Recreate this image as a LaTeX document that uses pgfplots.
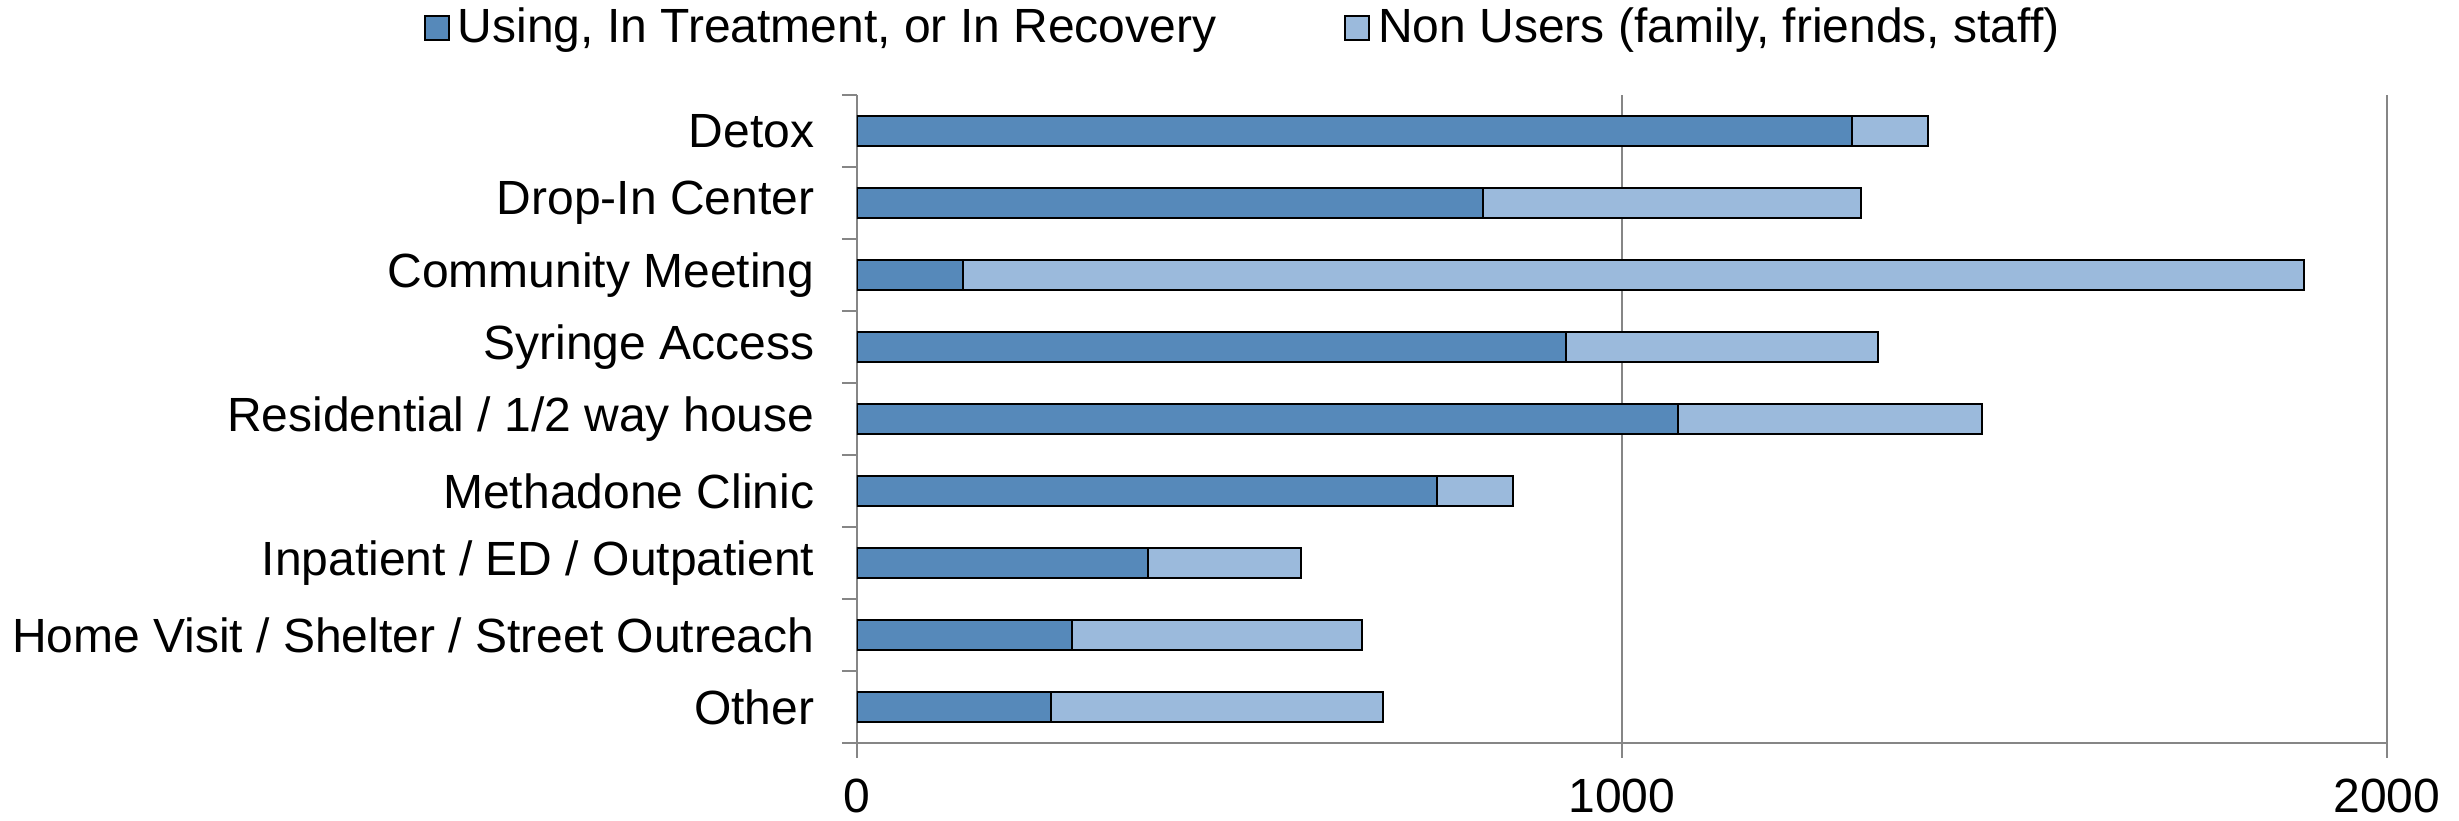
\documentclass[12pt,border=0pt]{standalone}
\usepackage{fontspec}
\setmainfont{Liberation Sans}
\usepackage{pgfplots}
\pgfplotsset{compat=1.18}
\definecolor{darkblue}{HTML}{5689BA}
\definecolor{lightblue}{HTML}{9BBADC}
\definecolor{axgray}{HTML}{868686}
\begin{document}
\begin{tikzpicture}
\path[use as bounding box] (-214.25pt,-19.5pt) rectangle (400.5pt,185.75pt);
\begin{axis}[
  scale only axis,
  width=382.5pt, height=162pt,
  xbar stacked,
  bar width=7.5pt,
  xmin=0, xmax=2000,
  ymin=-0.5, ymax=8.5,
  axis x line*=bottom,
  axis y line*=left,
  axis line style={draw=axgray, line width=0.6pt},
  xtick={0,1000,2000},
  xticklabels={0,1000,2000},
  ytick={0,...,8},
  yticklabels={Other,Home Visit / Shelter / Street Outreach,Inpatient / ED / Outpatient,Methadone Clinic,Residential / 1/2 way house,Syringe Access,Community Meeting,Drop-In Center,Detox},
  minor ytick={-0.5,0.5,...,8.5},
  tick align=outside,
  major tick length=3.75pt,
  minor tick length=3.75pt,
  every major y tick/.append style={draw=none},
  tick style={draw=axgray, line width=0.6pt},
  xmajorgrids,
  grid style={draw=axgray, line width=0.6pt},
  yticklabel style={xshift=-2.75pt},
  xticklabel style={yshift=-1pt},
  /pgf/number format/assume math mode=true,
  legend columns=2,
  legend style={at={(0.254,1.103)}, anchor=center, draw=none, fill=none,
    /tikz/every even column/.append style={column sep=30pt}},
  legend image code/.code={\draw[#1,draw=black,line width=0.5pt] (0pt,-3pt) rectangle (6pt,3pt);},
]
\addplot[fill=darkblue, draw=black, line width=0.5pt] coordinates {
  (254,0) (281,1) (381,2) (758,3) (1073,4) (927,5) (138,6) (818,7) (1300,8)};
\addlegendentry{Using, In Treatment, or In Recovery}
\addplot[fill=lightblue, draw=black, line width=0.5pt] coordinates {
  (434,0) (379,1) (199,2) (100,3) (397,4) (407,5) (1753,6) (495,7) (100,8)};
\addlegendentry{Non Users (family, friends, staff)}
\end{axis}
\end{tikzpicture}
\end{document}
